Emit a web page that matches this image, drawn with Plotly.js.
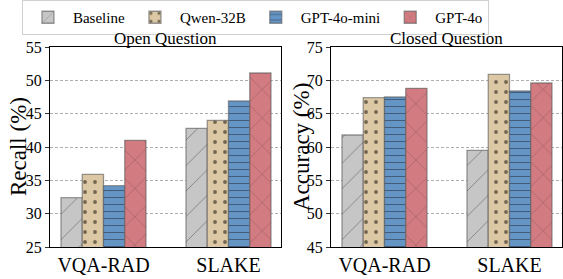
<!DOCTYPE html>
<html><head><meta charset="utf-8">
<script src="https://cdn.plot.ly/plotly-3.0.1.min.js"></script>
<style>html,body{margin:0;padding:0;background:#fff}#c{width:563px;height:279px}</style>
</head><body><div id="c"></div>
<script>
const categories = ["VQA-RAD", "SLAKE"];
const models = ["Baseline", "Qwen-32B", "GPT-4o-mini", "GPT-4o"];
const openRecall = {
  "Baseline": [32.4, 42.8],
  "Qwen-32B": [35.9, 44.0],
  "GPT-4o-mini": [34.2, 46.9],
  "GPT-4o": [41.0, 51.1]
};
const closedAccuracy = {
  "Baseline": [61.8, 59.5],
  "Qwen-32B": [67.4, 70.9],
  "GPT-4o-mini": [67.5, 68.4],
  "GPT-4o": [68.8, 69.6]
};
const panelTitles = ["Open Question", "Closed Question"];
const yTitles = ["Recall (%)", "Accuracy (%)"];
const yRanges = [[25, 55], [45, 75]];

const styles = {
  "Baseline": {color: "#c6c6c6", shape: "/", size: 18, solidity: 0.05, fg: "rgba(70,70,70,0.55)"},
  "Qwen-32B": {color: "#dcc8a4", shape: ".", size: 10, solidity: 0.12, fg: "rgba(80,70,55,0.75)"},
  "GPT-4o-mini": {color: "#6495c5", shape: "-", size: 7, solidity: 0.14, fg: "rgba(40,50,70,0.6)"},
  "GPT-4o": {color: "#d27b81", shape: "x", size: 20, solidity: 0.04, fg: "rgba(70,50,55,0.6)"}
};

const FF = "Liberation Serif";
const traces = [];
[openRecall, closedAccuracy].forEach((data, i) => {
  models.forEach(m => {
    const s = styles[m];
    traces.push({
      type: "bar", name: m, x: categories, y: data[m],
      xaxis: i === 0 ? "x" : "x2", yaxis: i === 0 ? "y" : "y2",
      showlegend: i === 0, legendgroup: m,
      marker: {color: s.color, line: {color: "rgba(90,90,90,0.6)", width: 1.3},
        pattern: {shape: s.shape, fillmode: "replace", bgcolor: s.color, fgcolor: s.fg, size: s.size, solidity: s.solidity}}
    });
  });
});

const yaxisBase = {
  showline: true, mirror: true, linecolor: "#000", linewidth: 1,
  ticks: "outside", ticklen: 4, tickcolor: "#333", dtick: 5,
  tickfont: {family: FF, size: 16, color: "#000"},
  showgrid: true, gridcolor: "#9a9a9a", griddash: "3px,2px", gridwidth: 0.8, zeroline: false
};
const xaxisBase = {
  showline: true, mirror: true, linecolor: "#000", linewidth: 1,
  ticks: "", range: [-0.428, 1.42], showgrid: false,
  tickfont: {family: FF, size: 20, color: "#000"}
};
const yDom = [0.1147, 0.8315];

const layout = {
  width: 563, height: 279,
  margin: {l: 0, r: 0, t: 0, b: 0},
  paper_bgcolor: "#fff", plot_bgcolor: "#fff",
  barmode: "group", bargap: 0.32, bargroupgap: 0,
  font: {family: FF, color: "#000"},
  xaxis: Object.assign({}, xaxisBase, {domain: [0.0888, 0.4991], anchor: "y"}),
  xaxis2: Object.assign({}, xaxisBase, {domain: [0.5879, 0.9982], anchor: "y2"}),
  yaxis: Object.assign({}, yaxisBase, {domain: yDom, range: yRanges[0], anchor: "x"}),
  yaxis2: Object.assign({}, yaxisBase, {domain: yDom, range: yRanges[1], anchor: "x2"}),
  legend: {orientation: "h", x: 0.039, y: 1.0, xanchor: "left", yanchor: "top",
    bordercolor: "#d0d0d0", borderwidth: 1, bgcolor: "#fff",
    font: {family: FF, size: 15, color: "#000"}, itemwidth: 40, traceorder: "normal"},
  annotations: [
    {text: panelTitles[0], xref: "x domain", yref: "y domain", x: 0.5, y: 1, yanchor: "bottom", yshift: -3, showarrow: false, font: {family: FF, size: 17, color: "#000"}},
    {text: panelTitles[1], xref: "x2 domain", yref: "y2 domain", x: 0.5, y: 1, yanchor: "bottom", yshift: -3, showarrow: false, font: {family: FF, size: 17, color: "#000"}},
    {text: yTitles[0], xref: "paper", yref: "paper", x: 18 / 563, y: (yDom[0] + yDom[1]) / 2, textangle: -90, xanchor: "center", yanchor: "middle", showarrow: false, font: {family: FF, size: 23, color: "#000"}},
    {text: yTitles[1], xref: "paper", yref: "paper", x: 301 / 563, y: (yDom[0] + yDom[1]) / 2, textangle: -90, xanchor: "center", yanchor: "middle", showarrow: false, font: {family: FF, size: 23, color: "#000"}}
  ]
};

Plotly.newPlot("c", traces, layout, {staticPlot: true, displayModeBar: false});
</script></body></html>
